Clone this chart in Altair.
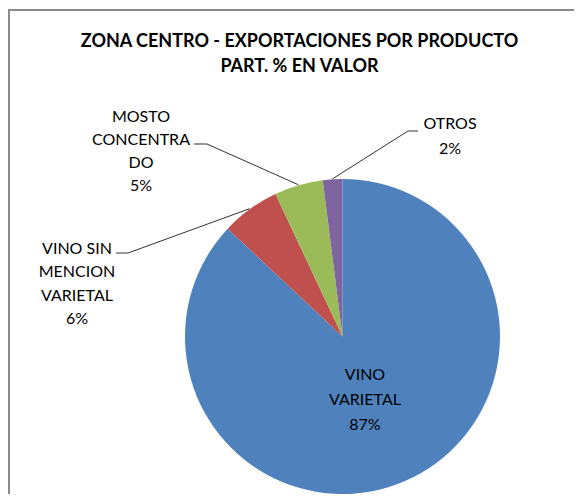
import math
import altair as alt
import pandas as pd

# ---- data ----
categories = ["VINO VARIETAL", "VINO SIN MENCION VARIETAL", "MOSTO CONCENTRADO", "OTROS"]
shares = [87, 6, 5, 2]
label_lines = [
    ["VINO", "VARIETAL", "87%"],
    ["VINO SIN", "MENCION", "VARIETAL", "6%"],
    ["MOSTO", "CONCENTRA", "DO", "5%"],
    ["OTROS", "2%"],
]
title_lines = ["ZONA CENTRO - EXPORTACIONES POR PRODUCTO", "PART. % EN VALOR"]
colors = ["#4F81BD", "#C0504D", "#9BBB59", "#8064A2"]

# ---- layout ----
W, H = 566, 486
CX, CY, R = 334.5, 328.5, 157.5
FONT = "Lato"
label_layout = [  # center x, first line y, line step
    (357, 367, 25),
    (69, 240.5, 23.5),
    (133, 108.5, 23),
    (442, 115.5, 25),
]
leaders = [None, (108, 120, 245), (186, 199, 136), (410, 400, 123)]  # label-side x, elbow x, y
title_x, title_y0, title_step = 291.5, 34, 25

pie_df = pd.DataFrame({"category": categories, "share": shares, "idx": list(range(len(categories)))})

# mid-angles from cumulative shares
total = sum(shares)
mids = []
acc = 0
for s in shares:
    mids.append((acc + s / 2) / total * 2 * math.pi)
    acc += s

text_rows = []
for i, lines in enumerate(label_lines):
    lx, ly, step = label_layout[i]
    for j, t in enumerate(lines):
        text_rows.append({"x": lx, "y": ly + j * step, "text": t})
text_df = pd.DataFrame(text_rows)

title_df = pd.DataFrame([{"x": title_x, "y": title_y0 + j * title_step, "text": t} for j, t in enumerate(title_lines)])

line_rows = []
for i, ld in enumerate(leaders):
    if ld is None:
        continue
    a = mids[i]
    ex = CX + (R + 0.5) * math.sin(a)
    ey = CY - (R + 0.5) * math.cos(a)
    lx, bx, by = ld
    line_rows += [
        {"cat": categories[i], "o": 0, "x": ex, "y": ey},
        {"cat": categories[i], "o": 1, "x": bx, "y": by},
        {"cat": categories[i], "o": 2, "x": lx, "y": by},
    ]
line_df = pd.DataFrame(line_rows)

frame_df = pd.DataFrame([
    {"x": 0, "y": 2, "x2": W, "y2": 2},
    {"x": 1, "y": 2, "x2": 1, "y2": H},
])

xs = alt.Scale(domain=[0, W], nice=False, zero=False)
ys = alt.Scale(domain=[0, H], nice=False, zero=False, reverse=True)

pie = alt.Chart(pie_df).mark_arc(outerRadius=R, x=CX, y=CY).encode(
    theta=alt.Theta("share:Q", stack=True),
    color=alt.Color("category:N", scale=alt.Scale(domain=categories, range=colors), legend=None),
    order=alt.Order("idx:Q"),
)

frame = alt.Chart(frame_df).mark_rule(color="#8c8c8c", strokeWidth=2).encode(
    x=alt.X("x:Q", scale=xs, axis=None),
    y=alt.Y("y:Q", scale=ys, axis=None),
    x2="x2:Q",
    y2="y2:Q",
)

leader = alt.Chart(line_df).mark_line(color="#333333", strokeWidth=1).encode(
    x=alt.X("x:Q", scale=xs, axis=None),
    y=alt.Y("y:Q", scale=ys, axis=None),
    detail="cat:N",
    order="o:Q",
)

labels = alt.Chart(text_df).mark_text(font=FONT, fontSize=16, color="#000000", baseline="middle", align="center").encode(
    x=alt.X("x:Q", scale=xs, axis=None),
    y=alt.Y("y:Q", scale=ys, axis=None),
    text="text:N",
)

title = alt.Chart(title_df).mark_text(font=FONT, fontSize=18, fontWeight="bold", color="#000000", baseline="middle", align="center").encode(
    x=alt.X("x:Q", scale=xs, axis=None),
    y=alt.Y("y:Q", scale=ys, axis=None),
    text="text:N",
)

chart = alt.layer(pie, frame, leader, labels, title).properties(
    width=W, height=H, padding=0, autosize=alt.AutoSizeParams(type="none"), background="white"
).configure_view(stroke=None)

chart.save("out.html", embed_options={"renderer": "svg", "actions": False})
